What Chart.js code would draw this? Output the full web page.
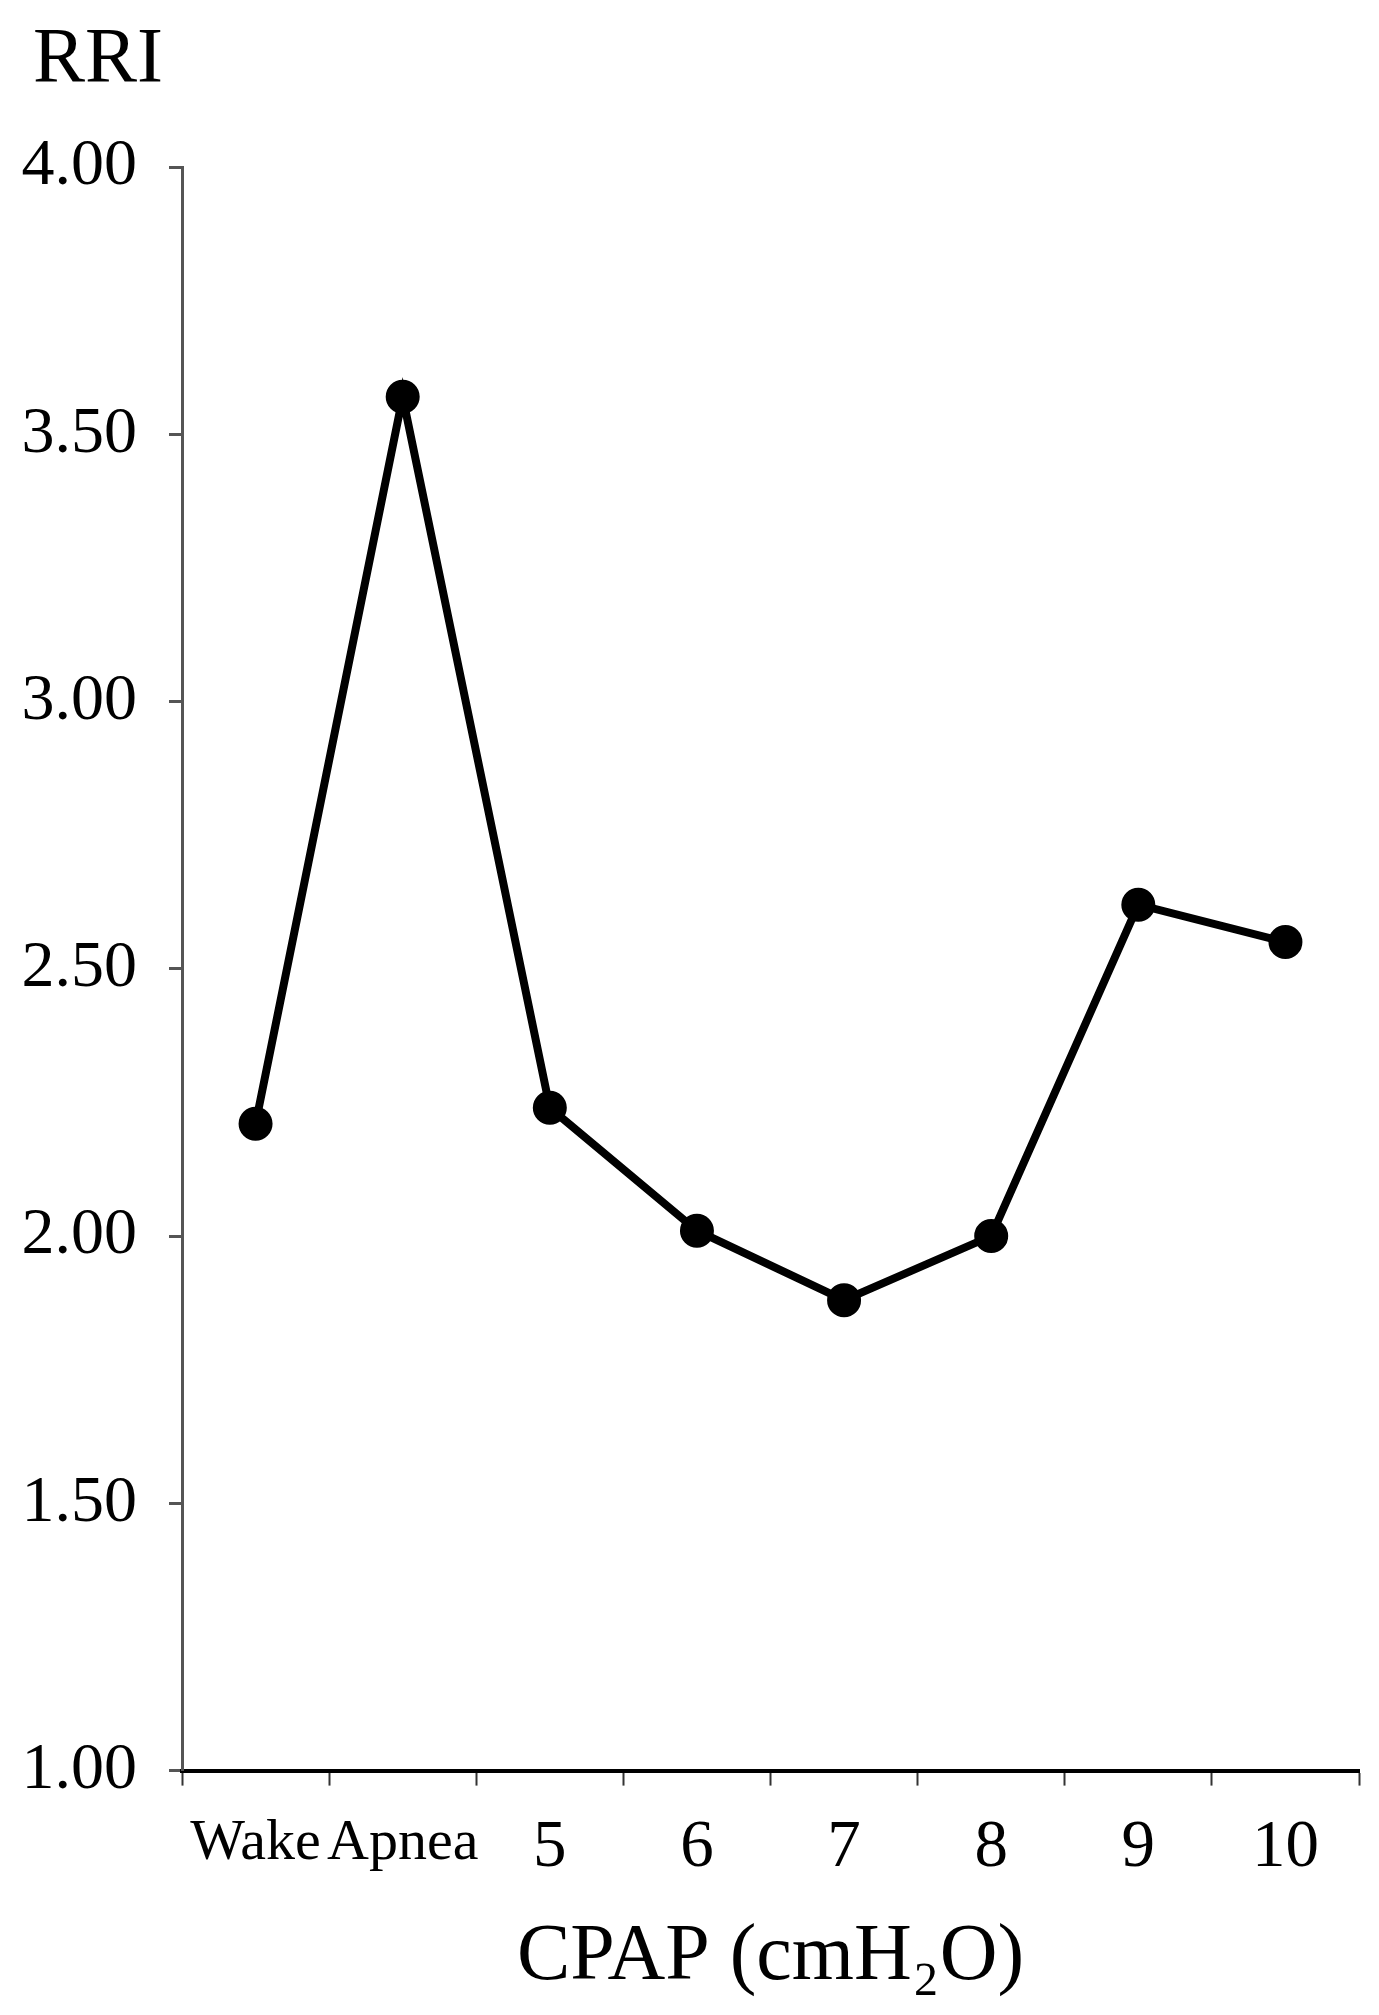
<!DOCTYPE html>
<html>
<head>
<meta charset="utf-8">
<script src="https://cdn.jsdelivr.net/npm/chart.js@4.4.1/dist/chart.umd.min.js"></script>
<style>
  html, body { margin: 0; padding: 0; background: #fff; }
  #wrap { width: 1379px; height: 2015px; position: relative; }
</style>
</head>
<body>
<div id="wrap"><canvas id="chart"></canvas></div>
<script>
// data
var categories = ["Wake", "Apnea", "5", "6", "7", "8", "9", "10"];
var rriValues = [2.21, 3.57, 2.24, 2.01, 1.88, 2.00, 2.62, 2.55];
var yTicks = [1.0, 1.5, 2.0, 2.5, 3.0, 3.5, 4.0];
var yTitle = "RRI";
var xTitle = "CPAP (cmH\u2082O)";

var serif = "'Liberation Serif', 'Times New Roman', serif";

// y axis name sits horizontally above the axis, top left
var yNamePlugin = {
  id: "yName",
  afterDraw: function (chart) {
    var c = chart.ctx;
    c.save();
    c.fillStyle = "#000";
    c.font = "78px " + serif;
    c.textAlign = "left";
    c.textBaseline = "alphabetic";
    c.fillText(yTitle, 33, 81);
    c.restore();
  },
};

document.addEventListener("DOMContentLoaded", function () {
  renderChart("chart");
});

function renderChart(chartId) {
  var ctx = document.getElementById(chartId);
  if (!ctx) {
    console.error("Canvas element not found with ID: " + chartId);
    return;
  }

  new Chart(ctx, {
    type: "line",
    data: {
      labels: categories,
      datasets: [
        {
          label: yTitle,
          data: rriValues,
          borderColor: "#000",
          backgroundColor: "#000",
          borderWidth: 8,
          pointRadius: 16,
          pointBorderWidth: 2,
          pointBackgroundColor: "#000",
          pointBorderColor: "#000",
          tension: 0,
          fill: false,
        },
      ],
    },
    plugins: [yNamePlugin],
    options: {
      responsive: true,
      maintainAspectRatio: false,
      animation: false,
      layout: {
        padding: { left: 0, right: 20, top: 167, bottom: 0 },
      },
      plugins: {
        legend: { display: false },
        tooltip: { enabled: false },
        title: { display: false },
      },
      scales: {
        x: {
          type: "category",
          offset: true,
          grid: {
            offset: true,
            drawOnChartArea: false,
            drawTicks: true,
            tickLength: 15,
            tickWidth: 2,
            tickColor: "#333",
          },
          border: { display: true, color: "#000", width: 4 },
          ticks: {
            color: "#000",
            padding: 23,
            maxRotation: 0,
            autoSkip: false,
            font: function (c) {
              return {
                family: serif,
                size: c.index < 2 ? 58 : 67,
              };
            },
          },
          title: {
            display: true,
            text: xTitle,
            color: "#000",
            font: { family: serif, size: 80, lineHeight: 1.0 },
            padding: { top: 6, bottom: 17 },
          },
        },
        y: {
          min: 1,
          max: 4,
          afterBuildTicks: function (scale) {
            scale.ticks = yTicks.map(function (v) {
              return { value: v };
            });
          },
          afterFit: function (scale) {
            scale.width = 182;
          },
          grid: {
            drawOnChartArea: false,
            drawTicks: true,
            tickLength: 13,
            tickWidth: 3,
            tickColor: "#555",
          },
          border: { display: true, color: "#555", width: 3 },
          ticks: {
            color: "#000",
            padding: 32,
            font: { family: serif, size: 66 },
            callback: function (v) {
              return Number(v).toFixed(2);
            },
          },
        },
      },
    },
  });
}
</script>
</body>
</html>
